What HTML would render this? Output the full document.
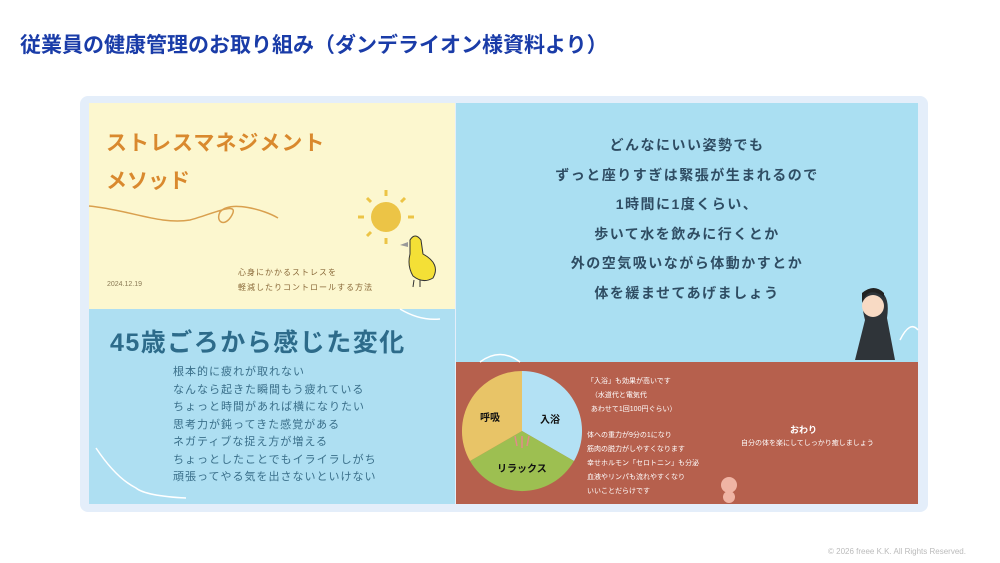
<!DOCTYPE html>
<html><head><meta charset="utf-8"><style>
body{margin:0;width:1000px;height:563px;background:#fff;position:relative;overflow:hidden;font-family:"Liberation Sans","Noto Sans CJK JP",sans-serif}
.a{position:absolute}
.t{white-space:nowrap}
</style></head><body>
<div class="a t" style="left:20px;top:29px;font-size:21px;font-weight:bold;color:#1a3ca8">従業員の健康管理のお取り組み（ダンデライオン様資料より）</div>
<div class="a" style="left:80px;top:96px;width:848px;height:416px;background:#e4eefa;border-radius:8px"></div>
<div class="a" style="left:89px;top:103px;width:366px;height:206px;background:#fcf7cf"></div>
<div class="a" style="left:89px;top:309px;width:366px;height:195px;background:#aedff2"></div>
<div class="a" style="left:456px;top:103px;width:462px;height:259px;background:#aadff2"></div>
<div class="a" style="left:456px;top:362px;width:462px;height:142px;background:#b6604d"></div>
<div class="a t" style="left:106px;top:127px;font-size:21px;font-weight:bold;color:#d9892e;letter-spacing:1px">ストレスマネジメント</div>
<div class="a t" style="left:106px;top:165px;font-size:21px;font-weight:bold;color:#d9892e">メソッド</div>
<svg class="a" style="left:0;top:0" width="1000" height="563">
<path d="M89 206 C130 210,160 225,190 220 C210 215,240 200,232 215 C225 228,215 222,220 212 C230 200,265 210,278 218" fill="none" stroke="#d9a04e" stroke-width="1.5"/>
<circle cx="386" cy="217" r="15" fill="#ecc446"/>
<g stroke="#ecc446" stroke-width="3"><line x1="386" y1="190" x2="386" y2="196"/><line x1="386" y1="238" x2="386" y2="244"/><line x1="358" y1="217" x2="364" y2="217"/><line x1="408" y1="217" x2="414" y2="217"/><line x1="367" y1="198" x2="371" y2="202"/><line x1="405" y1="198" x2="401" y2="202"/><line x1="367" y1="236" x2="371" y2="232"/></g>
<path d="M410 240 q5-8 11 0 l2 14 q18 10 10 24 q-10 6-20-2 q-6-10-3-22z" fill="#f4e036" stroke="#333" stroke-width="1"/>
<path d="M408 242 l-8 3 l8 2z" fill="#999"/>
<line x1="414" y1="280" x2="413" y2="287" stroke="#333"/><line x1="420" y1="280" x2="420" y2="287" stroke="#333"/>
<path d="M520 362 q-20-15-40 0 M900 340 q10-20 18-10" fill="none" stroke="#fff" stroke-width="1.5"/>
<path d="M96 448 q20 30 40 40 q10 8 50 10" fill="none" stroke="#fff" stroke-width="1.5"/>
<path d="M400 309 q20 12 40 10" fill="none" stroke="#fff" stroke-width="1.5"/>
<path d="M522 431 L522 371 A60 60 0 0 1 574 461 Z" fill="#b3e1f4"/>
<path d="M522 431 L574 461 A60 60 0 0 1 470 461 Z" fill="#9dbf51"/>
<path d="M522 431 L470 461 A60 60 0 0 1 522 371 Z" fill="#e8c467"/>
<path d="M515 436 l2 10 M522 436 l0 12 M529 436 l-2 10" stroke="#e38a8a" stroke-width="1.5"/>
<circle cx="729" cy="485" r="8" fill="#f0b4a4"/><ellipse cx="729" cy="497" rx="6" ry="6" fill="#f0b4a4"/>
<path d="M865 320 q-8-30 10-30 q16 2 12 28 l8 42 h-40z" fill="#2f3439"/><circle cx="873" cy="306" r="11" fill="#f8dac4"/><path d="M862 303 q6-18 22-6 v-4 q-10-10-22 0z" fill="#222"/>
</svg>
<div class="a t" style="left:107px;top:281px;font-size:7px;color:#8a7a55">2024.12.19</div>
<div class="a t" style="left:238px;top:265px;font-size:8px;color:#8a6a3a;line-height:15px;letter-spacing:1px">心身にかかるストレスを<br>軽減したりコントロールする方法</div>
<div class="a t" style="left:110px;top:323px;font-size:25px;font-weight:bold;color:#2d6b8a;letter-spacing:1.5px">45歳ごろから感じた変化</div>
<div class="a t" style="left:173px;top:364px;font-size:11px;color:#3a6f8a;line-height:17.5px;letter-spacing:1px">根本的に疲れが取れない<br>なんなら起きた瞬間もう疲れている<br>ちょっと時間があれば横になりたい<br>思考力が鈍ってきた感覚がある<br>ネガティブな捉え方が増える<br>ちょっとしたことでもイライラしがち<br>頑張ってやる気を出さないといけない</div>
<div class="a" style="left:456px;top:131px;width:462px;text-align:center;font-size:14px;font-weight:bold;color:#2f4d63;line-height:29.5px;letter-spacing:1.5px">どんなにいい姿勢でも<br>ずっと座りすぎは緊張が生まれるので<br>1時間に1度くらい、<br>歩いて水を飲みに行くとか<br>外の空気吸いながら体動かすとか<br>体を緩ませてあげましょう</div>
<div class="a t" style="left:480px;top:409px;font-size:10px;font-weight:bold;color:#111">呼吸</div>
<div class="a t" style="left:540px;top:411px;font-size:10px;font-weight:bold;color:#111">入浴</div>
<div class="a t" style="left:497px;top:460px;font-size:10px;font-weight:bold;color:#111">リラックス</div>
<div class="a t" style="left:587px;top:375px;font-size:7px;color:#fff;line-height:14px">「入浴」も効果が高いです<br>&nbsp;&nbsp;（水道代と電気代<br>&nbsp;&nbsp;あわせて1回100円ぐらい）</div>
<div class="a t" style="left:587px;top:429px;font-size:7px;color:#fff;line-height:14px">体への重力が9分の1になり<br>筋肉の脱力がしやすくなります<br>幸せホルモン「セロトニン」も分泌<br>血液やリンパも流れやすくなり<br>いいことだらけです</div>
<div class="a t" style="left:790px;top:423px;font-size:9px;color:#fff;font-weight:bold">おわり</div>
<div class="a t" style="left:741px;top:438px;font-size:7px;color:#fff">自分の体を楽にしてしっかり癒しましょう</div>
<div class="a t" style="left:828px;top:547px;font-size:8px;color:#bbb">© 2026 freee K.K. All Rights Reserved.</div>
</body></html>
